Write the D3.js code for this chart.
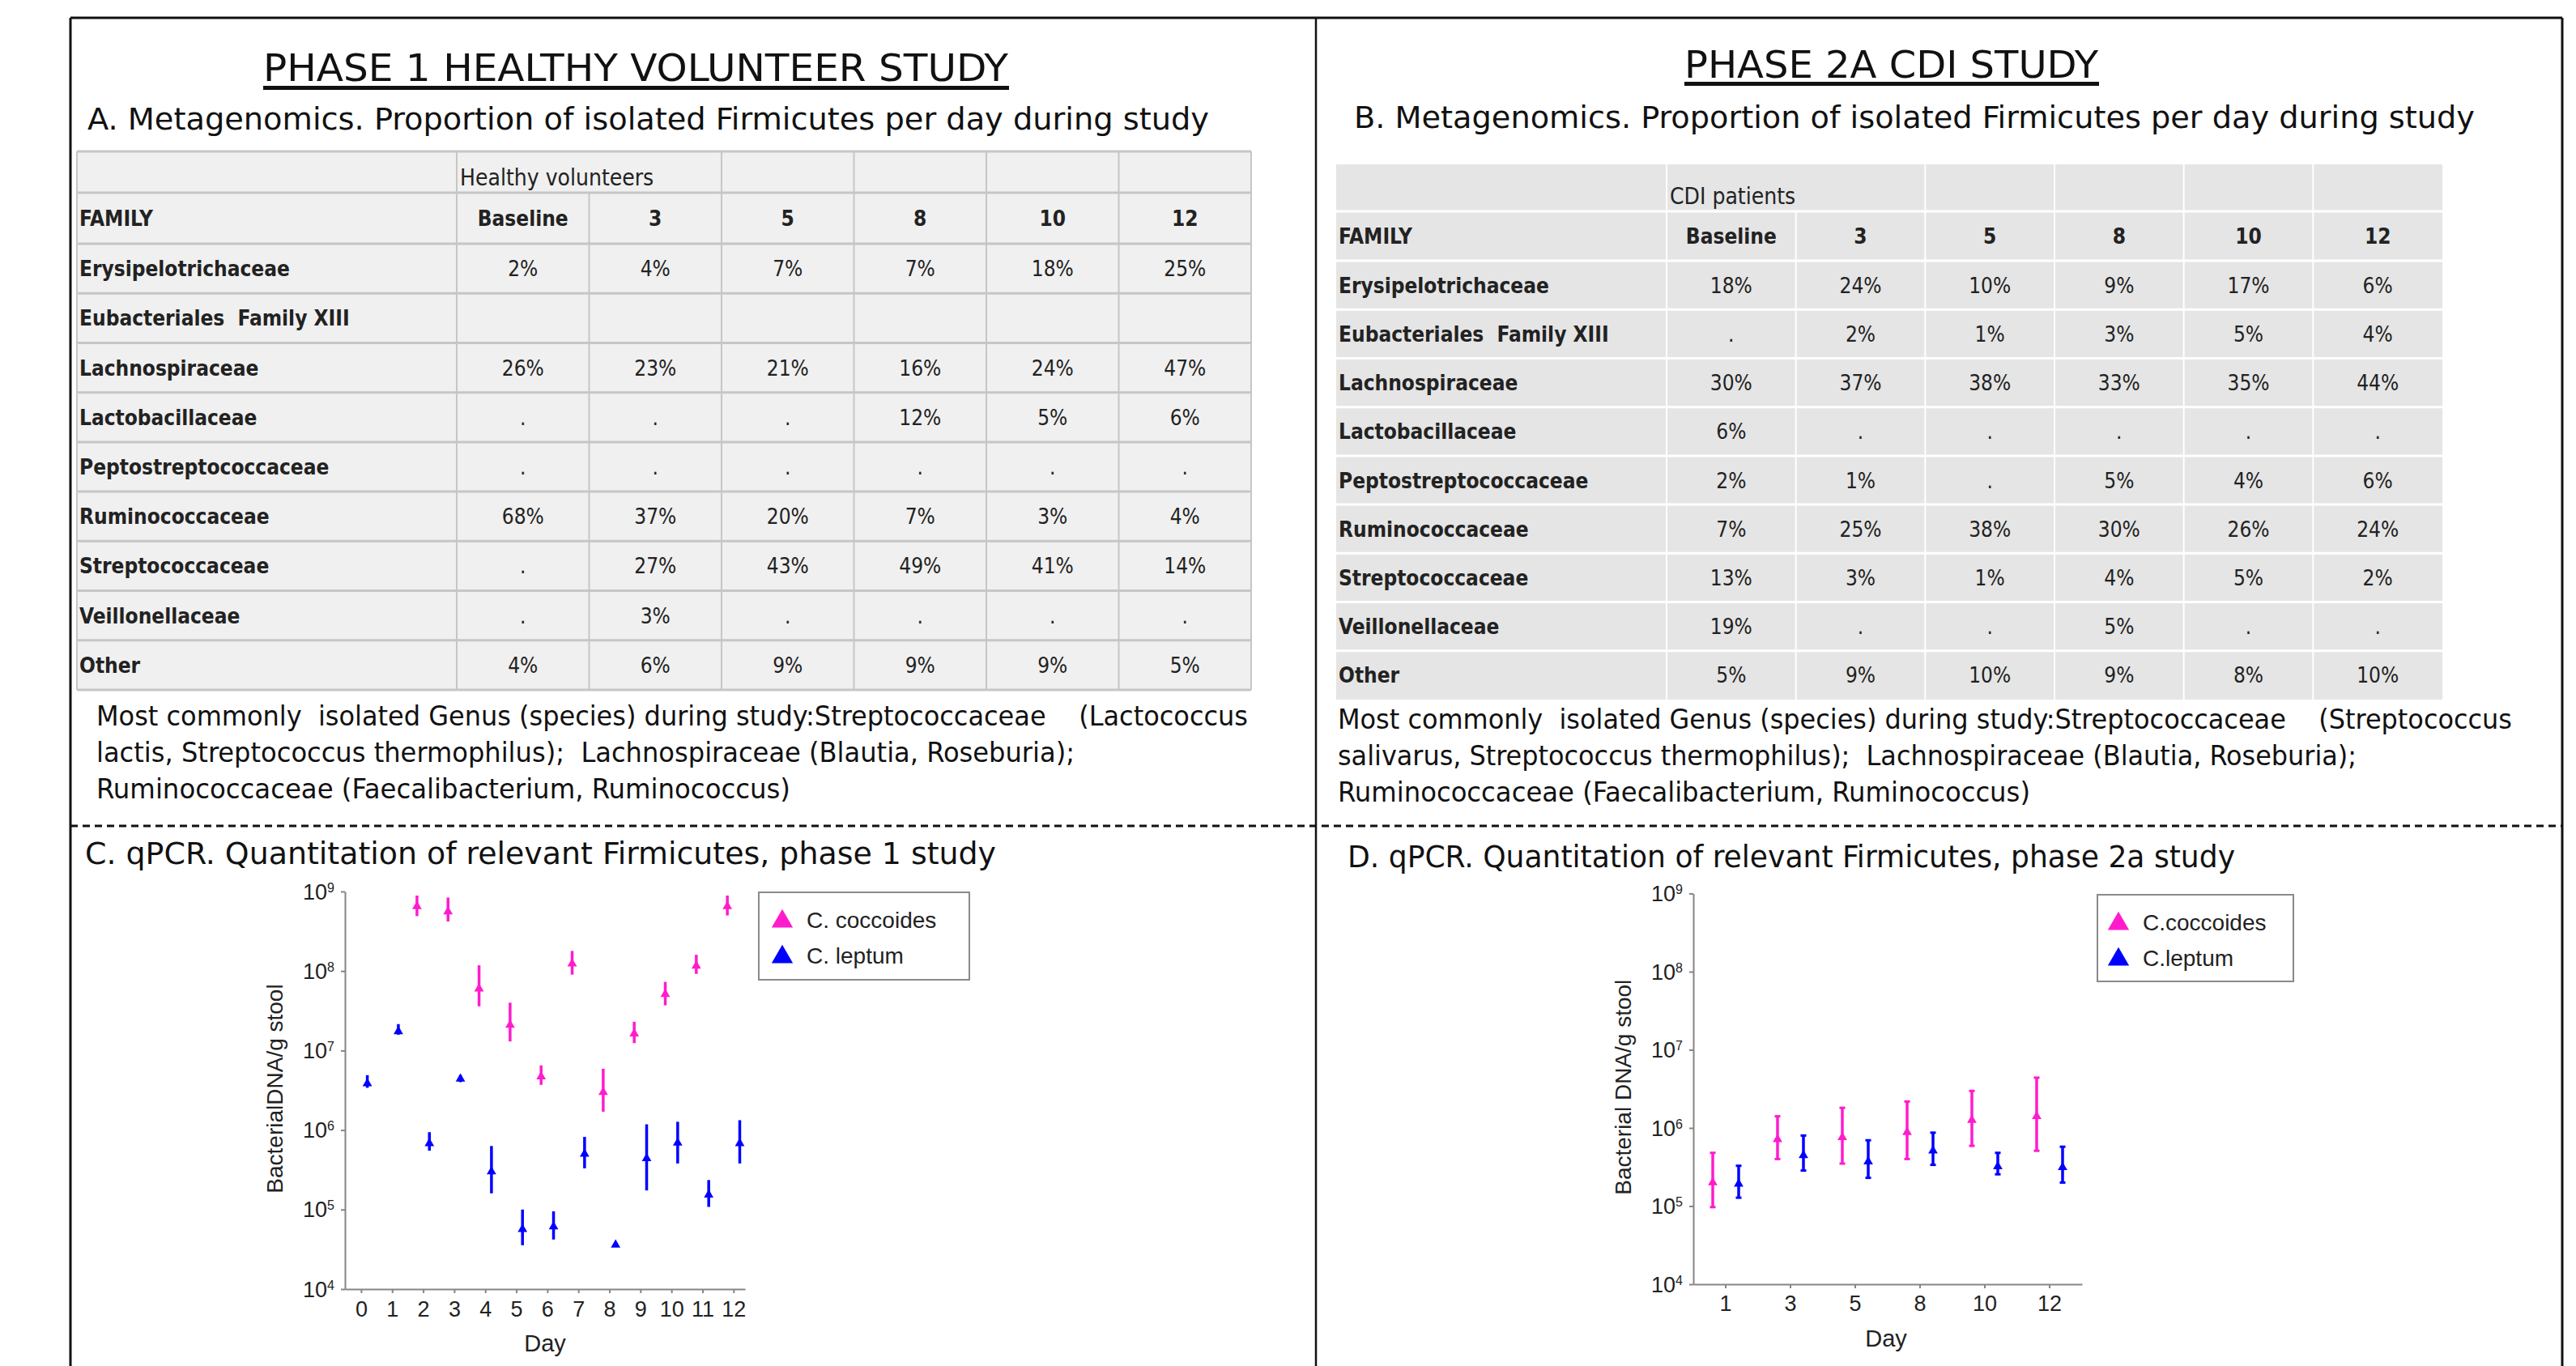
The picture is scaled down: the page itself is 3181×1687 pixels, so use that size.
<!DOCTYPE html>
<html>
<head>
<meta charset="utf-8">
<script src="https://cdn.jsdelivr.net/npm/d3@7"></script>
<style>
  html, body { margin: 0; padding: 0; background: #fff; }
  svg { display: block; }
  .calibri { font-family: "Liberation Sans Narrow", "DejaVu Sans Condensed", "Liberation Sans", sans-serif; font-stretch: condensed; white-space: pre; fill: #111; }
  .tbl { font-family: "DejaVu Sans Condensed", "DejaVu Sans", sans-serif; font-stretch: condensed; white-space: pre; fill: #222; }
  .plot { font-family: "Liberation Sans", Arial, sans-serif; fill: #222; }
</style>
</head>
<body>
<div id="container"></div>
<script>
/* DATA */
const families = ["Erysipelotrichaceae", "Eubacteriales  Family XIII", "Lachnospiraceae", "Lactobacillaceae",
  "Peptostreptococcaceae", "Ruminococcaceae", "Streptococcaceae", "Veillonellaceae", "Other"];
const dayCols = ["Baseline", "3", "5", "8", "10", "12"];

const phase1Values = [
  ["2%", "4%", "7%", "7%", "18%", "25%"],
  ["", "", "", "", "", ""],
  ["26%", "23%", "21%", "16%", "24%", "47%"],
  [".", ".", ".", "12%", "5%", "6%"],
  [".", ".", ".", ".", ".", "."],
  ["68%", "37%", "20%", "7%", "3%", "4%"],
  [".", "27%", "43%", "49%", "41%", "14%"],
  [".", "3%", ".", ".", ".", "."],
  ["4%", "6%", "9%", "9%", "9%", "5%"]
];
const phase2Values = [
  ["18%", "24%", "10%", "9%", "17%", "6%"],
  [".", "2%", "1%", "3%", "5%", "4%"],
  ["30%", "37%", "38%", "33%", "35%", "44%"],
  ["6%", ".", ".", ".", ".", "."],
  ["2%", "1%", ".", "5%", "4%", "6%"],
  ["7%", "25%", "38%", "30%", "26%", "24%"],
  ["13%", "3%", "1%", "4%", "5%", "2%"],
  ["19%", ".", ".", "5%", ".", "."],
  ["5%", "9%", "10%", "9%", "8%", "10%"]
];

// qPCR phase 1, x = study day
const p1Ticks = [0, 1, 2, 3, 4, 5, 6, 7, 8, 9, 10, 11, 12];
const p1CoccDays = [2, 3, 4, 5, 6, 7, 8, 9, 10, 11, 12];
const p1CoccMid = [6.5e8, 5.6e8, 6.0e7, 2.1e7, 4.7e6, 1.24e8, 3.0e6, 1.63e7, 5.1e7, 1.16e8, 6.5e8];
const p1CoccLo = [4.9e8, 4.2e8, 3.6e7, 1.3e7, 3.7e6, 9.0e7, 1.7e6, 1.24e7, 3.7e7, 9.2e7, 5.0e8];
const p1CoccHi = [8.9e8, 8.4e8, 1.18e8, 4.0e7, 6.5e6, 1.79e8, 5.9e6, 2.3e7, 7.3e7, 1.6e8, 8.9e8];
const p1LeptDays = [0, 1, 2, 3, 4, 5, 6, 7, 8, 9, 10, 11, 12];
const p1LeptMid = [3.84e6, 1.74e7, 6.8e5, 4.4e6, 3.0e5, 5.65e4, 6.1e4, 5.0e5, 3.6e4, 4.4e5, 6.9e5, 1.53e5, 6.8e5];
const p1LeptLo = [3.4e6, 1.58e7, 5.5e5, 4.0e6, 1.6e5, 3.56e4, 4.2e4, 3.3e5, 3.4e4, 1.74e5, 3.8e5, 1.08e5, 3.8e5];
const p1LeptHi = [4.9e6, 2.15e7, 9.4e5, 4.9e6, 6.3e5, 1.0e5, 9.5e4, 8.2e5, 3.8e4, 1.18e6, 1.27e6, 2.35e5, 1.33e6];

// qPCR phase 2a, x = sampling day (categorical)
const p2Days = ["1", "3", "5", "8", "10", "12"];
const p2CoccMid = [2.0e5, 7.15e5, 7.6e5, 8.8e5, 1.26e6, 1.41e6];
const p2CoccLo = [9.7e4, 4.0e5, 3.5e5, 4.0e5, 5.9e5, 5.1e5];
const p2CoccHi = [4.8e5, 1.41e6, 1.81e6, 2.18e6, 2.98e6, 4.4e6];
const p2LeptMid = [1.92e5, 4.47e5, 3.7e5, 5.1e5, 3.22e5, 3.13e5];
const p2LeptLo = [1.28e5, 2.85e5, 2.3e5, 3.37e5, 2.55e5, 2.0e5];
const p2LeptHi = [3.28e5, 8.0e5, 6.95e5, 8.7e5, 4.8e5, 5.75e5];

const yTicks = [1e4, 1e5, 1e6, 1e7, 1e8, 1e9];

/* CONSTANTS */
const width = 3181, height = 1687;
const pink = "#ff1ccc", blue = "#0000ff", axisGray = "#858585";

const svg = d3.select("#container")
  .append("svg")
  .attr("width", width)
  .attr("height", height);

/* FRAME */
svg.append("line").attr("x1", 87).attr("x2", 3164).attr("y1", 22).attr("y2", 22)
  .attr("stroke", "#111").attr("stroke-width", 3);
[87, 1625, 3164].forEach(x => {
  svg.append("line").attr("x1", x).attr("x2", x).attr("y1", 22).attr("y2", height)
    .attr("stroke", "#111").attr("stroke-width", x === 1625 ? 2.5 : 3);
});
svg.append("line").attr("x1", 87).attr("x2", 3164).attr("y1", 1020).attr("y2", 1020)
  .attr("stroke", "#111").attr("stroke-width", 3).attr("stroke-dasharray", "9,6");

/* TEXT HELPERS */
function calibriText(str, x, y, size, len) {
  return svg.append("text")
    .attr("class", "calibri")
    .attr("x", x).attr("y", y)
    .attr("font-size", size)
    .attr("textLength", len)
    .attr("lengthAdjust", "spacingAndGlyphs")
    .text(str);
}

// titles
calibriText("PHASE 1 HEALTHY VOLUNTEER STUDY", 325, 100, 47, 920);
svg.append("rect").attr("x", 325).attr("y", 106).attr("width", 921).attr("height", 5).attr("fill", "#111");
calibriText("PHASE 2A CDI STUDY", 2080, 96, 47, 511);
svg.append("rect").attr("x", 2080).attr("y", 101).attr("width", 512).attr("height", 5).attr("fill", "#111");

calibriText("A. Metagenomics. Proportion of isolated Firmicutes per day during study", 108, 160, 37, 1385);
calibriText("B. Metagenomics. Proportion of isolated Firmicutes per day during study", 1672, 158, 37, 1384);

// footnotes
calibriText("Most commonly  isolated Genus (species) during study:Streptococcaceae    (Lactococcus", 119, 896, 34, 1422);
calibriText("lactis, Streptococcus thermophilus);  Lachnospiraceae (Blautia, Roseburia);", 119, 941, 34, 1208);
calibriText("Ruminococcaceae (Faecalibacterium, Ruminococcus)", 119, 986, 34, 857);
calibriText("Most commonly  isolated Genus (species) during study:Streptococcaceae    (Streptococcus", 1652, 900, 34, 1450);
calibriText("salivarus, Streptococcus thermophilus);  Lachnospiraceae (Blautia, Roseburia);", 1652, 945, 34, 1258);
calibriText("Ruminococcaceae (Faecalibacterium, Ruminococcus)", 1652, 990, 34, 855);

calibriText("C. qPCR. Quantitation of relevant Firmicutes, phase 1 study", 105, 1067, 37, 1125);
calibriText("D. qPCR. Quantitation of relevant Firmicutes, phase 2a study", 1664, 1071, 37, 1096);

/* TABLES */
function drawTable(cfg) {
  const g = svg.append("g");
  const rowY = d3.scaleBand().domain(families).range([cfg.famBottom, cfg.bottom]);
  const colX = d3.scaleBand().domain(dayCols).range([cfg.famRight, cfg.right]);

  g.append("rect")
    .attr("x", cfg.left).attr("y", cfg.top)
    .attr("width", cfg.right - cfg.left).attr("height", cfg.bottom - cfg.top)
    .attr("fill", cfg.fill);

  // horizontal rules
  const hLines = [cfg.headBottom, cfg.famBottom].concat(families.slice(1).map(f => rowY(f)));
  if (cfg.outer) hLines.push(cfg.top, cfg.bottom);
  g.selectAll(".hrule").data(hLines).join("line")
    .attr("x1", cfg.left).attr("x2", cfg.right)
    .attr("y1", d => d).attr("y2", d => d)
    .attr("stroke", cfg.rule).attr("stroke-width", 3);

  // vertical rules; the group header spans Baseline and day 3
  const vLines = dayCols.map(d => ({ x: colX(d), y1: d === "3" ? cfg.headBottom : cfg.top }));
  if (cfg.outer) vLines.push({ x: cfg.left, y1: cfg.top }, { x: cfg.right, y1: cfg.top });
  g.selectAll(".vrule").data(vLines).join("line")
    .attr("x1", d => d.x).attr("x2", d => d.x)
    .attr("y1", d => d.y1).attr("y2", cfg.bottom)
    .attr("stroke", cfg.rule).attr("stroke-width", 2);

  // group label
  g.append("text").attr("class", "tbl")
    .attr("x", cfg.famRight + 4).attr("y", cfg.headBottom - 9)
    .attr("font-size", 28)
    .text(cfg.group);

  // column headers
  const headY = (cfg.headBottom + cfg.famBottom) / 2 + 9.5;
  g.append("text").attr("class", "tbl")
    .attr("x", cfg.left + 3).attr("y", headY)
    .attr("font-size", 26).attr("font-weight", "bold")
    .text("FAMILY");
  g.selectAll(".colhead").data(dayCols).join("text")
    .attr("class", "tbl")
    .attr("x", d => colX(d) + colX.bandwidth() / 2).attr("y", headY)
    .attr("text-anchor", "middle")
    .attr("font-size", 26).attr("font-weight", "bold")
    .text(d => d);

  // rows
  const rows = g.selectAll(".row").data(families).join("g")
    .attr("transform", d => `translate(0, ${rowY(d) + rowY.bandwidth() / 2 + 9.5})`);
  rows.append("text").attr("class", "tbl")
    .attr("x", cfg.left + 3)
    .attr("font-size", 26).attr("font-weight", "bold")
    .text(d => d);
  rows.each(function (f, i) {
    d3.select(this).selectAll(".val").data(cfg.values[i]).join("text")
      .attr("class", "tbl")
      .attr("x", (v, j) => colX(dayCols[j]) + colX.bandwidth() / 2)
      .attr("text-anchor", "middle")
      .attr("font-size", 26)
      .text(v => v);
  });
}

drawTable({
  left: 95, famRight: 564, right: 1545,
  top: 187, headBottom: 238, famBottom: 301, bottom: 852,
  fill: "#f0f0f0", rule: "#c6c6c6", outer: true,
  group: "Healthy volunteers", values: phase1Values
});
drawTable({
  left: 1650, famRight: 2058, right: 3016,
  top: 203, headBottom: 261, famBottom: 322, bottom: 864,
  fill: "#e5e5e5", rule: "#ffffff", outer: false,
  group: "CDI patients", values: phase2Values
});

/* qPCR CHARTS */
function drawQpcr(cfg) {
  const g = svg.append("g").attr("class", "plot");
  const y = d3.scaleLog().domain([1e4, 1e9]).range([cfg.yBottom, cfg.yTop]);

  // axes
  const xAxisG = g.append("g")
    .attr("transform", `translate(0, ${cfg.yBottom})`)
    .call(cfg.xAxis.tickSize(5).tickSizeOuter(0).tickPadding(cfg.xPad));
  xAxisG.selectAll("text").attr("font-size", 27).attr("fill", "#222")
    .attr("font-family", "Liberation Sans, Arial, sans-serif");

  const yAxisG = g.append("g")
    .attr("transform", `translate(${cfg.xLeft}, 0)`)
    .call(d3.axisLeft(y).tickValues(yTicks).tickSize(5).tickSizeOuter(0).tickFormat(""));

  [xAxisG, yAxisG].forEach(a => {
    a.select(".domain").attr("stroke", axisGray).attr("stroke-width", 2);
    a.selectAll(".tick line").attr("stroke", axisGray).attr("stroke-width", 2);
  });

  // power-of-ten tick labels
  const yl = g.selectAll(".ylab").data(yTicks).join("text")
    .attr("x", cfg.xLeft - 13)
    .attr("y", d => y(d) + 9.5)
    .attr("text-anchor", "end")
    .attr("font-size", 27);
  yl.append("tspan").text("10");
  yl.append("tspan").attr("font-size", 16).attr("dy", -9).text(d => Math.round(Math.log10(d)));

  // axis titles
  g.append("text")
    .attr("x", (cfg.xLeft + cfg.xRight) / 2 + cfg.dayShift).attr("y", cfg.dayY)
    .attr("text-anchor", "middle").attr("font-size", 29)
    .text("Day");
  g.append("text")
    .attr("transform", `translate(${cfg.yLabelX}, ${(cfg.yTop + cfg.yBottom) / 2 - 2}) rotate(-90)`)
    .attr("text-anchor", "middle").attr("dy", "0.35em").attr("font-size", 28)
    .text(cfg.yLabel);

  // series
  cfg.series.forEach(s => {
    const pts = s.days.map((d, i) => ({ x: cfg.xPos(d) + s.shift, mid: s.mid[i], lo: s.lo[i], hi: s.hi[i] }));
    const sg = g.append("g");
    sg.selectAll(".bar").data(pts).join("line")
      .attr("x1", d => d.x).attr("x2", d => d.x)
      .attr("y1", d => y(d.lo)).attr("y2", d => y(d.hi))
      .attr("stroke", s.color).attr("stroke-width", 3.5);
    if (cfg.caps) {
      sg.selectAll(".cap").data(pts.flatMap(d => [{ x: d.x, v: d.lo }, { x: d.x, v: d.hi }])).join("line")
        .attr("x1", d => d.x - 3.5).attr("x2", d => d.x + 3.5)
        .attr("y1", d => y(d.v)).attr("y2", d => y(d.v))
        .attr("stroke", s.color).attr("stroke-width", 3);
    }
    sg.selectAll(".mark").data(pts).join("path")
      .attr("transform", d => `translate(${d.x}, ${y(d.mid)})`)
      .attr("d", d3.symbol(d3.symbolTriangle, 60))
      .attr("fill", s.color);
  });

  // legend
  const lg = g.append("g").attr("transform", `translate(${cfg.legend.x}, ${cfg.legend.y})`);
  lg.append("rect")
    .attr("width", cfg.legend.w).attr("height", cfg.legend.h)
    .attr("fill", "#fff").attr("stroke", "#8a8a8a").attr("stroke-width", 2);
  cfg.series.forEach((s, i) => {
    lg.append("path")
      .attr("transform", `translate(${cfg.legend.markX}, ${36 + i * 44})`)
      .attr("d", d3.symbol(d3.symbolTriangle, 300))
      .attr("fill", s.color);
    lg.append("text")
      .attr("x", cfg.legend.textX).attr("y", 44 + i * 44)
      .attr("font-size", 28)
      .text(s.name);
  });
}

// chart C: linear day axis
const xC = d3.scaleLinear().domain([-0.52, 12.37]).range([426, 920]);
drawQpcr({
  xLeft: 426, xRight: 920, yTop: 1101, yBottom: 1592,
  xAxis: d3.axisBottom(xC).tickValues(p1Ticks).tickFormat(d3.format("d")),
  xPad: 10, xPos: d => xC(d), dayShift: 0, dayY: 1669,
  yLabel: "BacterialDNA/g stool", yLabelX: 339, caps: false,
  series: [
    { name: "C. coccoides", color: pink, days: p1CoccDays, mid: p1CoccMid, lo: p1CoccLo, hi: p1CoccHi, shift: -0.2 * (xC(1) - xC(0)) },
    { name: "C. leptum", color: blue, days: p1LeptDays, mid: p1LeptMid, lo: p1LeptLo, hi: p1LeptHi, shift: 0.2 * (xC(1) - xC(0)) }
  ],
  legend: { x: 937, y: 1102, w: 260, h: 108, markX: 29, textX: 59 }
});

// chart D: categorical day axis
const xD = d3.scaleBand().domain(p2Days).range([2091, 2571]);
drawQpcr({
  xLeft: 2091, xRight: 2571, yTop: 1103.5, yBottom: 1586,
  xAxis: d3.axisBottom(xD),
  xPad: 9, xPos: d => xD(d) + xD.bandwidth() / 2, dayShift: -2, dayY: 1663,
  yLabel: "Bacterial DNA/g stool", yLabelX: 2004, caps: true,
  series: [
    { name: "C.coccoides", color: pink, days: p2Days, mid: p2CoccMid, lo: p2CoccLo, hi: p2CoccHi, shift: -0.2 * xD.bandwidth() },
    { name: "C.leptum", color: blue, days: p2Days, mid: p2LeptMid, lo: p2LeptLo, hi: p2LeptHi, shift: 0.2 * xD.bandwidth() }
  ],
  legend: { x: 2590, y: 1105, w: 242, h: 107, markX: 26, textX: 56 }
});
</script>
</body>
</html>
